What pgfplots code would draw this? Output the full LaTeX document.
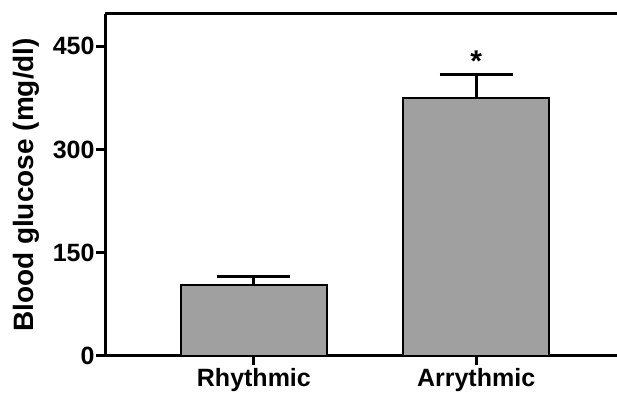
\documentclass[border=0pt]{standalone}
\usepackage{pgfplots}
\pgfplotsset{compat=1.18}
\usepackage{fontspec}
\setmainfont{Liberation Sans}
\definecolor{barfill}{HTML}{A0A0A0}
\begin{document}
\begin{tikzpicture}
\useasboundingbox (0,0) rectangle (617pt,398pt);
\begin{axis}[
  at={(105pt,42pt)}, anchor=south west,
  scale only axis, width=520pt, height=342pt,
  xmin=-0.67, xmax=1.67, ymin=0, ymax=497,
  axis x line*=bottom, axis y line*=left,
  axis line style={line width=3pt, -},
  xtick={0,1}, xticklabels={Rhythmic,Arrythmic},
  ytick={0,150,300,450},
  tick align=outside, major tick length=9pt,
  every tick/.style={line width=3pt, black},
  /pgf/number format/assume math mode=true,
  ticklabel style={font=\bfseries\fontsize{25}{25}\selectfont},
  yticklabel style={xshift=2pt},
  ylabel={Blood glucose (mg/dl)},
  every axis y label/.style={at={(rel axis cs:0,0.5)}, xshift=-79pt, rotate=90, anchor=center, font=\bfseries\fontsize{28}{28}\selectfont},
  clip=false,
]
\draw[line width=3pt] (rel axis cs:0,1) -- (rel axis cs:1,1);
\addplot[ybar, bar width=0.658, fill=barfill, draw=black, line width=2pt,
  error bars/.cd, y dir=plus, y explicit,
  error bar style={line width=3pt, black},
  error mark options={rotate=90, mark size=36.5pt, line width=3pt, black}]
  coordinates {(0,103) +- (0,13) (1,375) +- (0,34.5)};
\node[font=\bfseries\fontsize{30}{30}\selectfont] at (axis cs:1,428) {*};
\end{axis}
\end{tikzpicture}
\end{document}
